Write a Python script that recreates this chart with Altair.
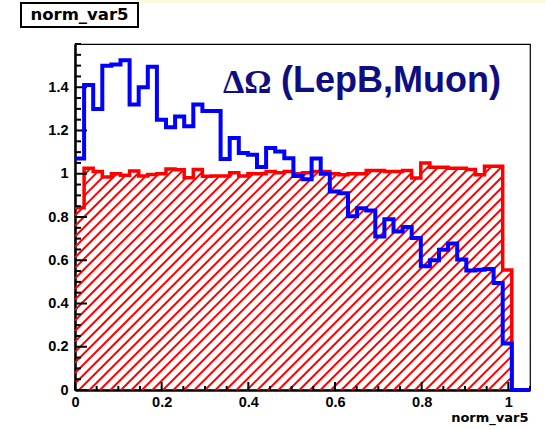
import numpy as np
import pandas as pd
import altair as alt

# Binning of norm_var5: 50 bins of width 0.021 on [0, 1.05]
n_bins = 50
bin_width = 0.021
x_max = 1.05
y_max = 1.6

# Normalised bin contents
background = [0.843, 1.025, 1.01, 0.985, 1.0, 0.993, 1.013, 0.99, 0.997, 1.0,
              1.022, 1.018, 0.982, 1.02, 0.988, 0.99, 0.99, 1.005, 0.99, 1.0,
              1.0, 1.01, 1.005, 1.01, 1.0, 1.005, 1.01, 1.01, 1.0, 0.995,
              1.0, 1.0, 1.015, 1.015, 1.01, 1.01, 1.015, 0.98, 1.05, 1.03,
              1.03, 1.025, 1.025, 1.02, 0.995, 1.035, 1.035, 0.555, 0.0, 0.0]
signal = [1.07, 1.41, 1.30, 1.50, 1.505, 1.525, 1.32, 1.40, 1.495, 1.25,
          1.215, 1.265, 1.22, 1.32, 1.29, 1.29, 1.068, 1.165, 1.096, 1.088,
          1.031, 1.119, 1.103, 1.072, 0.99, 0.975, 1.07, 1.0, 0.918, 0.91,
          0.803, 0.84, 0.83, 0.71, 0.79, 0.733, 0.754, 0.703, 0.572, 0.60,
          0.649, 0.677, 0.603, 0.553, 0.556, 0.56, 0.495, 0.215, 0.0, 0.0]

x_major = [0, 0.2, 0.4, 0.6, 0.8, 1]
y_major = [0, 0.2, 0.4, 0.6, 0.8, 1, 1.2, 1.4]
x_minor = [round(v, 2) for v in np.arange(0, x_max + 1e-9, 0.05) if round(v, 2) not in x_major]
y_minor = [round(v, 2) for v in np.arange(0, y_max + 1e-9, 0.05) if round(v, 2) not in y_major]

hist_title = "norm_var5"
x_title = "norm_var5"
label_sym = "ΔΩ"
label_txt = "(LepB,Muon)"

W, H = 455, 346
RED = "#ff0000"
BLUE = "#0000ff"
NAVY = "#0e0e82"

edges = [round(i * bin_width, 4) for i in range(n_bins + 1)]

x_scale = alt.Scale(domain=[0, x_max], nice=False, zero=False)
y_scale = alt.Scale(domain=[0, y_max], nice=False, zero=False)

label_style = dict(labelFont="Liberation Sans", labelFontWeight="bold",
                   labelFontSize=14.5, labelColor="black", ticks=False,
                   domainColor="black", domainWidth=2.5, grid=False, zindex=0)
x_axis = alt.Axis(values=x_major, format="~g", labelPadding=5, labelFlush=False,
                  title=x_title, titleFont="DejaVu Sans", titleFontWeight="bold",
                  titleFontSize=13, titleColor="black", titleAlign="right",
                  titleAnchor="end", titleX=W - 2, titleY=31,
                  titleBaseline="alphabetic", **label_style)
y_axis = alt.Axis(values=y_major, format="~g", labelPadding=7, title=None,
                  **label_style)


def X(field):
    return alt.X(field, scale=x_scale, axis=x_axis)


def Y(field):
    return alt.Y(field, scale=y_scale, axis=y_axis)


def step_frame(values):
    return pd.DataFrame({"x": edges, "y": list(values) + [values[-1]]})


# 45-degree hatch of the background histogram, clipped bin by bin
px_per_x = W / x_max
px_per_y = H / y_max
slope = px_per_x / px_per_y
gap = 10.5 / px_per_x
segments = []
for c in np.arange(-max(background) / slope - gap, x_max, gap):
    cur = None
    for i, h in enumerate(background):
        lo = max(edges[i], c)
        hi = min(edges[i + 1], c + h / slope)
        if h <= 0 or hi <= lo:
            continue
        y_lo, y_hi = slope * (lo - c), slope * (hi - c)
        if cur is not None and abs(cur["x2"] - lo) < 1e-9 and abs(cur["y2"] - y_lo) < 1e-9:
            cur["x2"], cur["y2"] = hi, y_hi
        else:
            if cur is not None:
                segments.append(cur)
            cur = {"x": lo, "y": y_lo, "x2": hi, "y2": y_hi}
    if cur is not None:
        segments.append(cur)
hatch_df = pd.DataFrame(segments)

hatch = alt.Chart(hatch_df).mark_rule(color=RED, strokeWidth=2, strokeCap="butt").encode(
    x=X("x:Q"), y=Y("y:Q"), x2="x2:Q", y2="y2:Q",
)

red_line = alt.Chart(step_frame(background)).mark_line(
    interpolate="step-after", color=RED, strokeWidth=3.5
).encode(x=X("x:Q"), y=Y("y:Q"))

blue_line = alt.Chart(step_frame(signal)).mark_line(
    interpolate="step-after", color=BLUE, strokeWidth=4
).encode(x=X("x:Q"), y=Y("y:Q"))


def x_ticks(vals, length):
    return alt.Chart(pd.DataFrame({"x": vals})).mark_rule(color="black", strokeWidth=2).encode(
        x=X("x:Q"), y=alt.value(H), y2=alt.value(H - length))


def y_ticks(vals, length):
    return alt.Chart(pd.DataFrame({"y": vals})).mark_rule(color="black", strokeWidth=2).encode(
        y=Y("y:Q"), x=alt.value(0), x2=alt.value(length))


sym = alt.Chart(pd.DataFrame({"t": [label_sym]})).mark_text(
    font="Liberation Serif", fontWeight="bold", fontSize=34, color=NAVY,
    align="left", baseline="alphabetic"
).encode(x=alt.value(148), y=alt.value(49), text="t:N")

txt = alt.Chart(pd.DataFrame({"t": [label_txt]})).mark_text(
    font="Liberation Sans", fontWeight="bold", fontSize=36, color=NAVY,
    align="left", baseline="alphabetic"
).encode(x=alt.value(206), y=alt.value(48), text="t:N")

# Canvas edge strip along the top
strip = alt.Chart(pd.DataFrame({"t": [hist_title]})).mark_rect(
    fill="#fbf8dc", stroke=None
).encode(x=alt.value(65), x2=alt.value(471), y=alt.value(-44), y2=alt.value(-41))

# Histogram name box above the frame
box = alt.Chart(pd.DataFrame({"t": [hist_title]})).mark_rect(
    fill="white", stroke="black", strokeWidth=2
).encode(x=alt.value(-54), x2=alt.value(63), y=alt.value(-41), y2=alt.value(-17))

box_text = alt.Chart(pd.DataFrame({"t": [hist_title]})).mark_text(
    font="DejaVu Sans", fontWeight="bold", fontSize=16.5, color="black",
    align="center", baseline="alphabetic"
).encode(x=alt.value(4.5), y=alt.value(-24), text="t:N")

chart = alt.layer(
    hatch, red_line,
    x_ticks(x_major, 8), x_ticks(x_minor, 4), y_ticks(y_major, 12), y_ticks(y_minor, 6),
    blue_line, sym, txt, strip, box, box_text,
).properties(
    width=W, height=H,
    autosize=alt.AutoSizeParams(type="none"),
    padding={"left": 75, "top": 44, "right": 16, "bottom": 39},
    background="white",
).configure_view(stroke="black", strokeWidth=1.2)

chart.save("out.html", embed_options={"renderer": "svg", "actions": False})
